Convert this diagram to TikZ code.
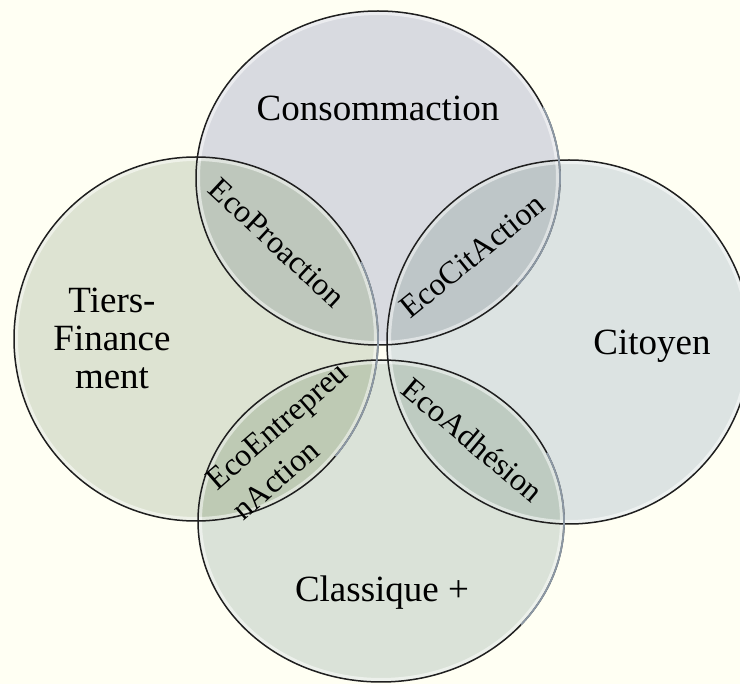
\documentclass[tikz,border=0pt]{standalone}
\usepackage{fontspec}
\setmainfont{Liberation Serif}
\definecolor{bgc}{RGB}{255,255,243}
\definecolor{fT}{RGB}{216,218,224}
\definecolor{fL}{RGB}{221,227,210}
\definecolor{fR}{RGB}{220,227,226}
\definecolor{fB}{RGB}{218,226,216}
\definecolor{lTL}{RGB}{190,199,188}
\definecolor{lTR}{RGB}{190,198,200}
\definecolor{lLB}{RGB}{190,202,180}
\definecolor{lRB}{RGB}{190,203,193}
\definecolor{lightedge}{RGB}{140,152,164}
\tikzset{
  outl/.style={draw=black!88, line width=1.5pt},
  lightarc/.style={draw=lightedge, line width=1.8pt},
  rim/.style={draw=white, opacity=0.5, line width=8pt},
  biglabel/.style={font=\fontsize{37}{38}\selectfont, inner sep=0pt},
  lenslabel/.style={font=\fontsize{32}{40}\selectfont, inner sep=0pt}
}
\begin{document}
\begin{tikzpicture}[x=1pt,y=-1pt]
\useasboundingbox (0,0) rectangle (740,684);
\fill[bgc] (0,0) rectangle (740,684);
\clip (0,0) rectangle (740,684);
\coordinate (cT) at (378,178);
\coordinate (cL) at (196,339);
\coordinate (cR) at (569,342);
\coordinate (cB) at (381,521);
% circle fills
\fill[fT] (cT) ellipse [x radius=182pt, y radius=167pt];
\fill[fL] (cL) circle [radius=182pt];
\fill[fR] (cR) circle [radius=182pt];
\fill[fB] (cB) ellipse [x radius=183pt, y radius=161pt];
% lenses
\begin{scope}
  \clip (cT) ellipse [x radius=182pt, y radius=167pt];
  \fill[lTL] (cL) circle [radius=182pt];
  \fill[lTR] (cR) circle [radius=182pt];
\end{scope}
\begin{scope}
  \clip (cB) ellipse [x radius=183pt, y radius=161pt];
  \fill[lLB] (cL) circle [radius=182pt];
  \fill[lRB] (cR) circle [radius=182pt];
\end{scope}
% inner rims
\begin{scope}
  \clip (cT) ellipse [x radius=182pt, y radius=167pt];
  \draw[rim] (cT) ellipse [x radius=182pt, y radius=167pt];
\end{scope}
\begin{scope}
  \clip (cL) circle [radius=182pt];
  \draw[rim] (cL) circle [radius=182pt];
\end{scope}
\begin{scope}
  \clip (cR) circle [radius=182pt];
  \draw[rim] (cR) circle [radius=182pt];
\end{scope}
\begin{scope}
  \clip (cB) ellipse [x radius=183pt, y radius=161pt];
  \draw[rim] (cB) ellipse [x radius=183pt, y radius=161pt];
\end{scope}
% outlines
\draw[outl] (cT) ellipse [x radius=182pt, y radius=167pt];
\draw[outl] (cL) circle [radius=182pt];
\draw[outl] (cR) circle [radius=182pt];
\draw[outl] (cB) ellipse [x radius=183pt, y radius=161pt];
% lighter east edges
\draw[lightarc] (cT) ++(-40:182pt and 167pt) arc [start angle=-40, end angle=25, x radius=182pt, y radius=167pt];
\draw[lightarc] (cL) ++(-40:182pt) arc [start angle=-40, end angle=25, radius=182pt];
\draw[lightarc] (cB) ++(-40:183pt and 161pt) arc [start angle=-40, end angle=25, x radius=183pt, y radius=161pt];
% labels
\node[biglabel, anchor=base] (tCons) at (378,121) {Consommaction};
\node[biglabel, anchor=base] (tCit) at (652,355) {Citoyen};
\node[biglabel, anchor=base] (tClass) at (382,602) {Classique +};
\node[biglabel, align=center] (tTiers) at (112,338) {Tiers-\\Finance\\ment};
\node[lenslabel, rotate=-43] (tPro) at (277,243) {EcoProaction};
\node[lenslabel, rotate=39] (tCit2) at (472,256) {EcoCitAction};
\node[lenslabel, rotate=41, align=left] (tEnt) at (290,441) {EcoEntrepreu\\nAction};
\node[lenslabel, rotate=-40] (tAdh) at (473,440) {EcoAdhésion};
\end{tikzpicture}
\end{document}
